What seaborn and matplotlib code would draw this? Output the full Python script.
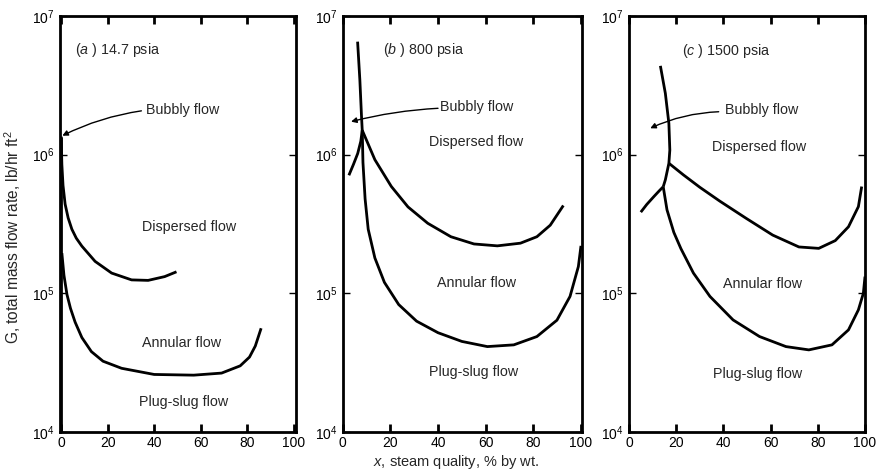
import numpy as np
import pandas as pd
import matplotlib
matplotlib.use("Agg")
import matplotlib.pyplot as plt
import seaborn as sns
from matplotlib.ticker import FixedLocator, NullLocator, LogFormatterSciNotation

sns.set_style("ticks")
plt.rcParams['font.family'] = ['Liberation Sans', 'DejaVu Sans']
plt.rcParams['mathtext.fontset'] = 'custom'
plt.rcParams['mathtext.rm'] = 'Liberation Sans'
plt.rcParams['mathtext.it'] = 'Liberation Sans:italic'

# ---------------- data ----------------
# Panel (a) 14.7 psia
a_upper_x = [0.0, 0.3, 0.8, 1.7, 3.0, 4.6, 6.5, 8.9, 14.6, 21.7, 30.3, 37.4, 44.5, 49.6]
a_upper_y = [1.35e6, 8.5e5, 6.0e5, 4.4e5, 3.5e5, 2.9e5, 2.5e5, 2.19e5, 1.70e5, 1.40e5, 1.25e5, 1.24e5, 1.32e5, 1.43e5]
a_lower_x = [0.3, 1.2, 2.5, 4.0, 6.0, 8.9, 13.0, 18.0, 26.0, 40.0, 57.0, 69.0, 77.0, 81.0, 83.5, 86.0]
a_lower_y = [1.95e5, 1.35e5, 9.8e4, 7.8e4, 6.2e4, 4.8e4, 3.8e4, 3.24e4, 2.88e4, 2.6e4, 2.57e4, 2.66e4, 3.0e4, 3.47e4, 4.17e4, 5.6e4]
a_wall_x = [0, 0]
a_wall_y = [1.0e4, 1.35e6]

# Panel (b) 800 psia
b_vert_x = [6.25, 7.2, 7.9, 8.2]
b_vert_y = [6.53e6, 3.46e6, 1.88e6, 1.5e6]
b_left_x = [2.6, 4.5, 6.3, 7.6, 8.2]
b_left_y = [7.1e5, 8.5e5, 1.02e6, 1.25e6, 1.5e6]
b_upper_x = [8.2, 13.5, 20.4, 27.4, 35.7, 45.4, 55.1, 64.9, 74.6, 81.5, 87.1, 92.6]
b_upper_y = [1.5e6, 9.2e5, 5.9e5, 4.2e5, 3.2e5, 2.56e5, 2.27e5, 2.2e5, 2.3e5, 2.56e5, 3.1e5, 4.3e5]
b_lower_x = [8.2, 8.5, 9.4, 10.7, 13.5, 17.5, 23.5, 31.0, 40.0, 50.0, 60.7, 71.8, 81.5, 89.9, 95.4, 98.9, 100.0]
b_lower_y = [1.5e6, 8.8e5, 4.8e5, 2.9e5, 1.8e5, 1.2e5, 8.3e4, 6.3e4, 5.2e4, 4.5e4, 4.13e4, 4.25e4, 4.88e4, 6.4e4, 9.5e4, 1.56e5, 2.2e5]

# Panel (c) 1500 psia
c_vert_x = [13.3, 15.4, 16.9, 17.3, 16.9, 15.4, 14.5]
c_vert_y = [4.37e6, 2.77e6, 1.68e6, 1.08e6, 8.67e5, 6.58e5, 5.87e5]
c_left_x = [5.0, 7.5, 10.6, 12.7, 14.5]
c_left_y = [3.85e5, 4.37e5, 5.0e5, 5.46e5, 5.87e5]
c_upper_x = [16.9, 23.0, 30.0, 38.5, 49.7, 60.9, 72.0, 80.4, 87.4, 93.0, 97.2, 98.6]
c_upper_y = [8.67e5, 7.16e5, 5.82e5, 4.62e5, 3.47e5, 2.63e5, 2.16e5, 2.11e5, 2.4e5, 3.02e5, 4.22e5, 5.89e5]
c_lower_x = [14.5, 16.1, 19.0, 22.0, 27.3, 34.3, 44.1, 55.3, 66.5, 76.2, 86.0, 93.0, 97.2, 99.3, 100.0]
c_lower_y = [5.87e5, 4.0e5, 2.75e5, 2.1e5, 1.4e5, 9.5e4, 6.43e4, 4.88e4, 4.13e4, 3.91e4, 4.25e4, 5.45e4, 7.6e4, 1.0e5, 1.32e5]

x_ticks = [0, 20, 40, 60, 80, 100]
region_labels = ["Bubbly flow", "Dispersed flow", "Annular flow", "Plug-slug flow"]
panel_letters = ["a", "b", "c"]
panel_pressures = ["14.7 psia", "800 psia", "1500 psia"]

panels = [
    dict(curves=[(a_upper_x, a_upper_y), (a_lower_x, a_lower_y), (a_wall_x, a_wall_y)],
         title_xy=(6, 5.7e6), bub_xy=(36.5, 2.1e6), arrow_from=(34.5, 2.07e6), arrow_to=(0.5, 1.37e6),
         disp_xy=(55, 3.0e5), ann_xy=(51.7, 4.4e4), plug_xy=(52.5, 1.65e4), xlim=(-0.5, 101), rad=0.08),
    dict(curves=[(b_vert_x, b_vert_y), (b_left_x, b_left_y), (b_upper_x, b_upper_y), (b_lower_x, b_lower_y)],
         title_xy=(17, 5.7e6), bub_xy=(41, 2.2e6), arrow_from=(40, 2.16e6), arrow_to=(3.5, 1.73e6),
         disp_xy=(56, 1.24e6), ann_xy=(56, 1.18e5), plug_xy=(55, 2.7e4), xlim=(0.7, 100.3), rad=0.05),
    dict(curves=[(c_vert_x, c_vert_y), (c_left_x, c_left_y), (c_upper_x, c_upper_y), (c_lower_x, c_lower_y)],
         title_xy=(22.4, 5.6e6), bub_xy=(40.5, 2.1e6), arrow_from=(38, 2.04e6), arrow_to=(9, 1.55e6),
         disp_xy=(55.3, 1.14e6), ann_xy=(56.7, 1.16e5), plug_xy=(54.6, 2.6e4), xlim=(1.0, 100.0), rad=0.1),
]

fig = plt.figure(figsize=(8.82, 4.70), dpi=100)
lefts = [60 / 882, 342.7 / 882, 629 / 882]
widths = [236 / 882, 239 / 882, 236 / 882]
bottom = 1 - 432 / 470
height = 416 / 470

fs = 10.3
tfs = 10.0
for i, p in enumerate(panels):
    ax = fig.add_axes([lefts[i], bottom, widths[i], height])
    for cx, cy in p["curves"]:
        df = pd.DataFrame({"x": cx, "y": cy})
        sns.lineplot(data=df, x="x", y="y", sort=False, estimator=None, ax=ax,
                     color="black", lw=2.0, solid_capstyle="butt", solid_joinstyle="round")
    ax.set_yscale("log")
    ax.set_ylim(1e4, 1e7)
    ax.set_xlim(*p["xlim"])
    ax.set_xlabel("")
    ax.set_ylabel("")
    ax.set_xticks(x_ticks)
    ax.set_xticklabels([str(t) for t in x_ticks])
    ax.yaxis.set_major_locator(FixedLocator([1e4, 1e5, 1e6, 1e7]))
    ax.yaxis.set_minor_locator(NullLocator())
    ax.yaxis.set_major_formatter(LogFormatterSciNotation())
    for s in ax.spines.values():
        s.set_linewidth(2.0)
        s.set_color("black")
        s.set_visible(True)
    ax.tick_params(axis="x", which="major", direction="in", top=True, bottom=True,
                   length=6, width=2, labelsize=tfs, pad=3, colors="black")
    ax.tick_params(axis="y", which="major", direction="in", left=True, right=True,
                   length=5, width=1.0, labelsize=tfs, pad=4, colors="black")
    ax.text(*p["title_xy"], f"($\\it{{{panel_letters[i]}}}$ ) {panel_pressures[i]}",
            fontsize=fs, ha="left", va="center")
    ax.text(*p["bub_xy"], region_labels[0], fontsize=fs, ha="left", va="center")
    ax.annotate("", xy=p["arrow_to"], xytext=p["arrow_from"],
                arrowprops=dict(arrowstyle="-|>", color="black", lw=1.0,
                                mutation_scale=8, shrinkA=0, shrinkB=0,
                                connectionstyle=f"arc3,rad={p['rad']}"))
    ax.text(*p["disp_xy"], region_labels[1], fontsize=fs, ha="center", va="center")
    ax.text(*p["ann_xy"], region_labels[2], fontsize=fs, ha="center", va="center")
    ax.text(*p["plug_xy"], region_labels[3], fontsize=fs, ha="center", va="center")
    ax.set_facecolor("white")

fig.text(13 / 882, 1 - 237 / 470, "G, total mass flow rate, lb/hr ft$^2$", rotation=90,
         ha="center", va="center", fontsize=11.2)
fig.text(456 / 882, 1 - 462 / 470, "$\\it{x}$, steam quality, % by wt.", ha="center",
         va="center", fontsize=10.5)

fig.savefig("out.png", dpi=100, facecolor="white")
